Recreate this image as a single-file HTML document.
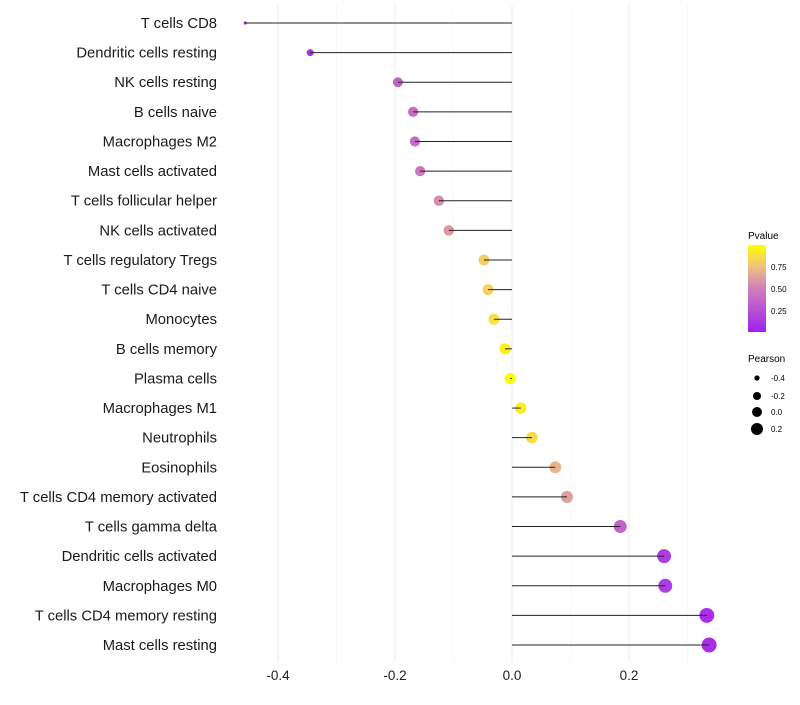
<!DOCTYPE html>
<html><head><meta charset="utf-8"><style>
body{margin:0;background:#fff;font-family:"Liberation Sans",sans-serif}
</style></head><body>
<svg id="chart" width="800" height="700" xmlns="http://www.w3.org/2000/svg">
<defs><linearGradient id="pg" x1="0" y1="1" x2="0" y2="0">
<stop offset="0" stop-color="#A020F0"/><stop offset="0.5" stop-color="#D080B8"/><stop offset="0.75" stop-color="#F0C080"/><stop offset="1" stop-color="#FFFF00"/></linearGradient></defs>
<g id="grid"></g><g id="dots"></g><g id="marks"></g><g id="labels"></g>
<g>
<text x="748" y="239" font-size="10">Pvalue</text>
<rect x="748" y="245" width="18" height="87" fill="url(#pg)"/>
<text x="771" y="270" font-size="8">0.75</text>
<text x="771" y="292" font-size="8">0.50</text>
<text x="771" y="314" font-size="8">0.25</text>
</g>
<g>
<text x="748" y="362" font-size="10">Pearson</text>
<circle cx="757" cy="378" r="2.6"/><text x="771" y="381" font-size="8">-0.4</text>
<circle cx="757" cy="396" r="4"/><text x="771" y="399" font-size="8">-0.2</text>
<circle cx="757" cy="412" r="5"/><text x="771" y="415" font-size="8">0.0</text>
<circle cx="757" cy="429" r="6"/><text x="771" y="432" font-size="8">0.2</text>
</g>
</svg>
<script>
const categories=["T cells CD8","Dendritic cells resting","NK cells resting","B cells naive","Macrophages M2","Mast cells activated","T cells follicular helper","NK cells activated","T cells regulatory  Tregs ","T cells CD4 naive","Monocytes","B cells memory","Plasma cells","Macrophages M1","Neutrophils","Eosinophils","T cells CD4 memory activated","T cells gamma delta","Dendritic cells activated","Macrophages M0","T cells CD4 memory resting","Mast cells resting"];
const pearson=[-0.456,-0.345,-0.195,-0.169,-0.166,-0.157,-0.125,-0.108,-0.048,-0.041,-0.031,-0.012,-0.003,0.015,0.034,0.074,0.094,0.185,0.26,0.262,0.333,0.337];
const pvalue=[0.03,0.1,0.35,0.4,0.4,0.45,0.55,0.6,0.8,0.82,0.88,0.95,0.99,0.93,0.85,0.7,0.62,0.35,0.15,0.15,0.08,0.07];
const xTicks=[-0.4,-0.2,0.0,0.2];
const xMinor=[-0.3,-0.1,0.1,0.3];
const NS="http://www.w3.org/2000/svg";
const x=v=>512+v*585;
const y=i=>23+i*29.62;
const rAnch=[[-0.46,1.5],[-0.345,3.5],[-0.195,5],[0,5.6],[0.185,6.5],[0.34,7.5]];
function rad(v){if(v<=rAnch[0][0])return rAnch[0][1];for(let k=1;k<rAnch.length;k++){if(v<=rAnch[k][0]){const t=(v-rAnch[k-1][0])/(rAnch[k][0]-rAnch[k-1][0]);return rAnch[k-1][1]+t*(rAnch[k][1]-rAnch[k-1][1]);}}return rAnch[rAnch.length-1][1];}
function lerp(a,b,t){return a.map((c,k)=>Math.round(c+(b[k]-c)*t));}
const stops=[[0,[160,32,240]],[0.5,[208,128,184]],[0.75,[240,192,128]],[1,[255,255,0]]];
function col(p){for(let k=1;k<stops.length;k++){if(p<=stops[k][0]){const t=(p-stops[k-1][0])/(stops[k][0]-stops[k-1][0]);const c=lerp(stops[k-1][1],stops[k][1],t);return `rgb(${c})`;}}return "rgb(255,255,0)";}
function mk(tag,at,parent){const e=document.createElementNS(NS,tag);for(const k in at)e.setAttribute(k,at[k]);parent.appendChild(e);return e;}
const grid=document.getElementById('grid'),marks=document.getElementById('marks'),dots=document.getElementById('dots'),labels=document.getElementById('labels');
xMinor.forEach(v=>{const l=mk('line',{x1:x(v),x2:x(v),y1:5,y2:662,stroke:'#f2f2f2','stroke-width':0.6},grid);

});
xTicks.forEach(v=>{const l=mk('line',{x1:x(v),x2:x(v),y1:5,y2:662,stroke:'#ebebeb','stroke-width':1},grid);


const t=mk('text',{x:x(v),y:680,'font-size':13.5,'text-anchor':'middle',fill:'#222'},labels);t.textContent=v.toFixed(1);

});
categories.forEach((c,i)=>{const t=mk('text',{x:217,y:y(i)+5,'font-size':14.8,'text-anchor':'end',fill:'#1a1a1a'},labels);t.textContent=c;


const d=mk('circle',{cx:x(pearson[i]),cy:y(i),r:rad(pearson[i]),fill:col(pvalue[i])},dots);


const s=mk('line',{x1:x(0),x2:x(pearson[i]),y1:y(i),y2:y(i),stroke:'#222','stroke-width':1},marks);

});
</script>
</body></html>
